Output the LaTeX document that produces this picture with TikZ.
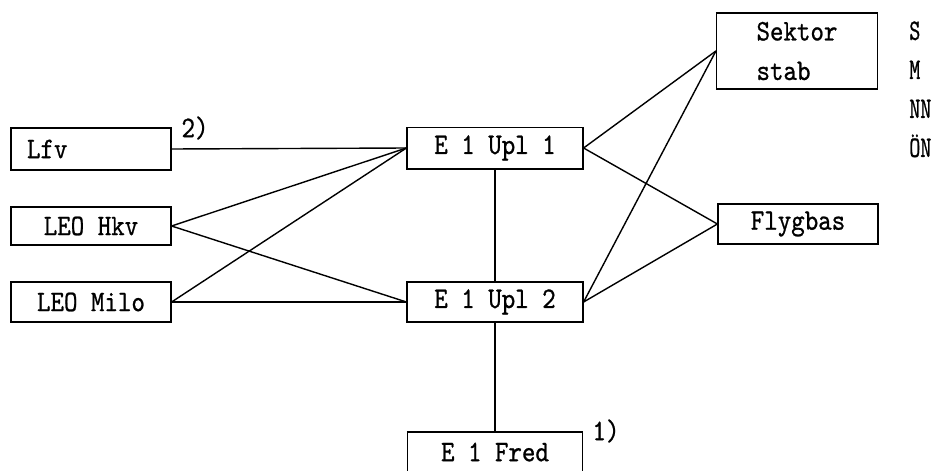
\documentclass[tikz,border=0pt]{standalone}
\usepackage{fontspec}
\newfontfamily\typew[FakeStretch=0.86,FakeBold=0.8]{lmmono10-regular.otf}
\newfontfamily\typen[FakeStretch=0.7,FakeBold=0.8]{lmmono10-regular.otf}
\usetikzlibrary{positioning}
\tikzset{
  tbox/.style={draw,line width=0.7pt,font=\typew\fontsize{17}{22.5}\selectfont,
    minimum width=3.2cm,minimum height=0.8cm,inner sep=2pt,
    append after command={[line width=1.6pt]
      (\tikzlastnode.north west) edge (\tikzlastnode.north east)
      (\tikzlastnode.south west) edge (\tikzlastnode.south east)}},
  link/.style={line width=0.8pt},
  note/.style={font=\typew\fontsize{17}{22}\selectfont,inner sep=0pt}
}
\begin{document}
\begin{tikzpicture}[x=0.02cm,y=-0.02cm]
  \useasboundingbox (0,0) rectangle (936,470);
  % left column
  \node[tbox,text width=2.56cm,align=left,minimum height=0.84cm] (lfv) at (91,149) {Lfv};
  \node[tbox,minimum height=0.76cm] (hkv) at (91,226) {LEO Hkv};
  \node[tbox] (milo) at (91,302) {LEO Milo};
  % middle column
  \node[tbox,minimum width=3.52cm,minimum height=0.82cm] (upl1) at (495,148) {E 1 Upl 1};
  \node[tbox,minimum width=3.52cm] (upl2) at (495,302) {E 1 Upl 2};
  \node[tbox,minimum width=3.5cm] (fred) at (495,452) {E 1 Fred};
  % right column
  \node[tbox,align=left,minimum width=3.22cm,minimum height=1.52cm] (sektor) at (797,51) {Sektor\\stab};
  \node[tbox] (flygbas) at (798,224) {Flygbas};
  % notes
  \node[note] (n2) at (195,128) {2)};
  \node[note] (n1) at (606,431) {1)};
  \node[note,align=left,anchor=north west,
    font=\typen\fontsize{17}{22.2}\selectfont] (units) at (909,21) {S\\M\\NN\\ÖN};
  % connectors
  \draw[link] (lfv.east) -- (upl1.west);
  \draw[link] (hkv.east) -- (upl1.west);
  \draw[link] (hkv.east) -- (upl2.west);
  \draw[link] (milo.east) -- (upl1.west);
  \draw[link] (milo.east) -- (upl2.west);
  \draw[link] (upl1.east) -- (sektor.west);
  \draw[link] (upl1.east) -- (flygbas.west);
  \draw[link] (upl2.east) -- (sektor.west);
  \draw[link] (upl2.east) -- (flygbas.west);
  \draw[link] (upl1.south) -- (upl2.north);
  \draw[link] (upl2.south) -- (fred.north);
\end{tikzpicture}
\end{document}
